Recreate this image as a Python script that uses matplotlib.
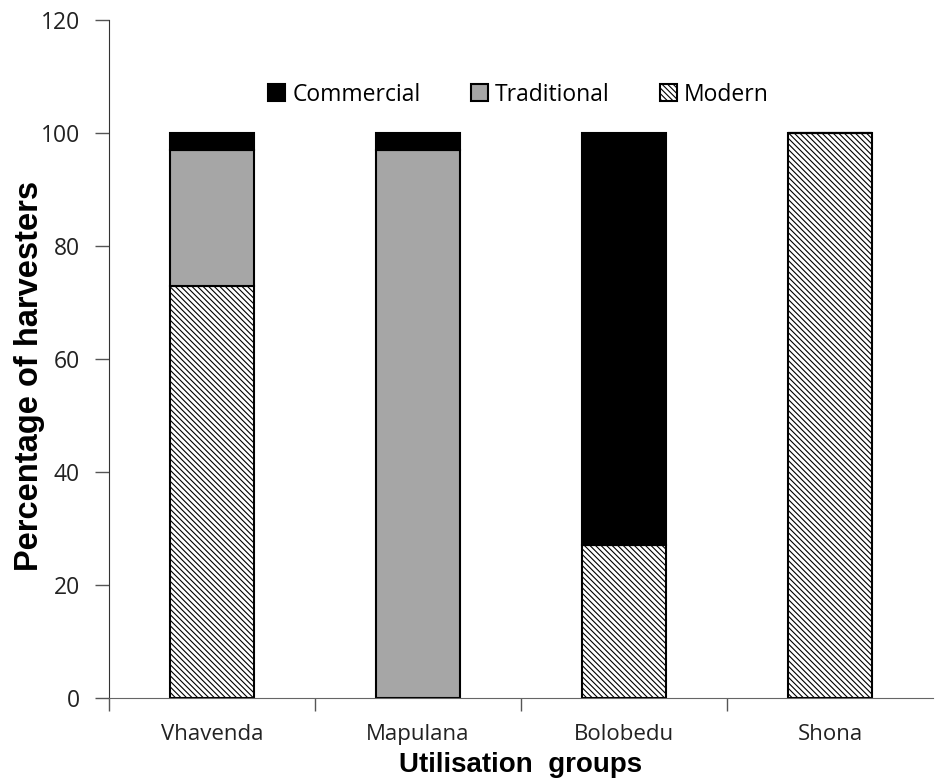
import numpy as np
import matplotlib.pyplot as plt

groups = ["Vhavenda", "Mapulana", "Bolobedu", "Shona"]
modern = [73, 0, 27, 100]
traditional = [24, 97, 0, 0]
commercial = [3, 3, 73, 0]

plt.rcParams['hatch.linewidth'] = 0.8

fig = plt.figure(figsize=(9.41, 7.78), dpi=100)
ax = fig.add_axes([0.1158, 0.1028, 0.8757, 0.8715])

x = np.arange(len(groups))
w = 0.41
modern = np.array(modern)
traditional = np.array(traditional)
commercial = np.array(commercial)

ax.bar(x, modern, w, color='white', edgecolor='black', hatch='\\\\\\\\\\\\', linewidth=1.5, label='Modern')
ax.bar(x, traditional, w, bottom=modern, color='#a6a6a6', edgecolor='black', linewidth=1.5, label='Traditional')
ax.bar(x, commercial, w, bottom=modern + traditional, color='black', edgecolor='black', linewidth=1.5, label='Commercial')

ax.set_xlim(-0.5, 3.5)
ax.set_ylim(0, 120)
ax.set_yticks(np.arange(0, 121, 20))
ax.set_xticks(x)
ax.set_xticklabels(groups)
ax.set_xticks(np.arange(-0.5, 3.0, 1.0), minor=True)
ax.tick_params(axis='x', which='major', length=0, pad=19, labelsize=16, labelcolor='#222222')
ax.tick_params(axis='x', which='minor', length=9, width=1, color='#555555')
ax.tick_params(axis='y', length=10, width=1, color='#555555', pad=11, labelsize=16.5, labelcolor='#222222')
for lab in ax.get_xticklabels() + ax.get_yticklabels():
    lab.set_fontfamily('Open Sans')

ax.spines['top'].set_visible(False)
ax.spines['right'].set_visible(False)
ax.spines['left'].set_color('#333333')
ax.spines['bottom'].set_color('#666666')

ax.set_ylabel("Percentage of harvesters", fontsize=23.5, fontweight='bold', family='Liberation Sans')
ax.yaxis.set_label_coords(-0.078, 0.475)
ax.set_xlabel("Utilisation  groups", fontsize=20, fontweight='bold', family='Liberation Sans', va='center')
ax.xaxis.set_label_coords(0.5, -0.099)

h, l = ax.get_legend_handles_labels()
leg = ax.legend(h[::-1], l[::-1], loc='center', bbox_to_anchor=(0.497, 0.89), ncol=3, frameon=False,
                handlelength=0.75, handleheight=0.75, handletextpad=0.3, columnspacing=2.2,
                prop={'family': 'Open Sans', 'size': 16.5})

fig.savefig("out.png", dpi=100)
